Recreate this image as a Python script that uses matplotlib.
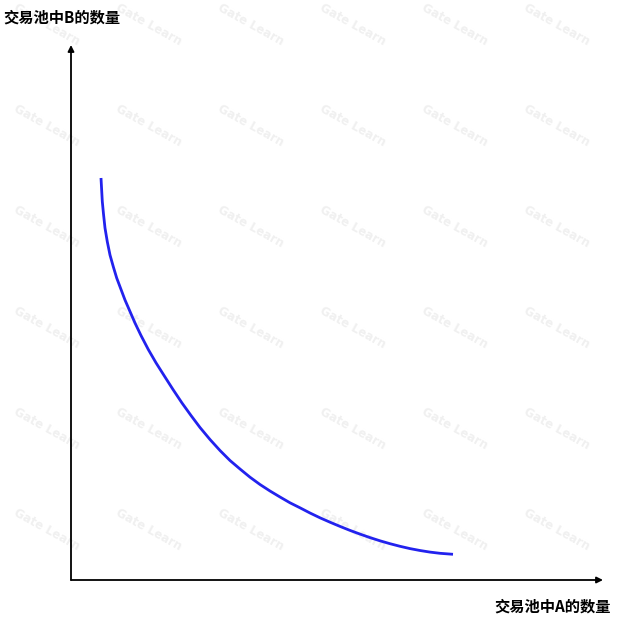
import matplotlib.pyplot as plt

plt.rcParams['font.family'] = ['Noto Sans CJK SC', 'DejaVu Sans']

# curve (units: pixels from the origin)
amount_a = [30, 30.6, 31.3, 32.5, 34, 36.3, 39, 42.3, 45.7, 54, 64, 70, 77.3, 85, 94,
            102, 111, 120, 129, 139, 149, 159, 169, 179, 189, 199, 209, 219, 229,
            239, 249, 259, 269, 279, 289, 299, 309, 319, 329, 339, 349, 359, 369, 382]
amount_b = [402, 391, 378.5, 366, 352, 338.3, 325, 313.3, 302, 280, 257, 244.5, 230.5, 217.2, 203,
            190.5, 177, 164.5, 152.5, 140.5, 129.5, 119.5, 111, 102.8, 95.5, 89, 83, 77.2, 72.2,
            67, 62.2, 57.8, 53.6, 49.6, 45.9, 42.4, 39.2, 36.3, 33.7, 31.4, 29.5, 27.9, 26.7, 25.7]

label_b = "交易池中B的数量"
label_a = "交易池中A的数量"
watermark = "Gate Learn"

fig = plt.figure(figsize=(6.25, 6.2), dpi=100)

# faint watermark grid, behind everything
for cx in [47, 149, 251, 353, 455, 557]:
    for cy in [25, 126, 227, 328, 429, 530]:
        fig.text(cx / 625, 1 - cy / 620, watermark, fontsize=8.5, color='#f0f0f0',
                 rotation=-29, ha='center', va='center', family='DejaVu Sans',
                 fontweight='bold', zorder=-5)

ax = fig.add_axes([71 / 625, 40 / 620, 532 / 625, 535 / 620])
ax.set_xlim(0, 532)
ax.set_ylim(0, 535)
ax.axis('off')
ax.patch.set_visible(False)

ax.plot(amount_a, amount_b, color='#2222ee', lw=2.0, solid_capstyle='butt',
        solid_joinstyle='round')

arrow = dict(arrowstyle='-|>', color='black', lw=1.3, mutation_scale=9, shrinkA=0, shrinkB=0)
ax.annotate('', xy=(532, 0), xytext=(0, 0), arrowprops=arrow, annotation_clip=False)
ax.annotate('', xy=(0, 535), xytext=(0, 0), arrowprops=arrow, annotation_clip=False)

fig.text(3 / 625, 1 - 18 / 620, label_b, fontsize=11, fontweight='bold', ha='left', va='center')
fig.text(611 / 625, 1 - 607 / 620, label_a, fontsize=11, fontweight='bold', ha='right', va='center')

fig.savefig('out.png', dpi=100, facecolor='white')
